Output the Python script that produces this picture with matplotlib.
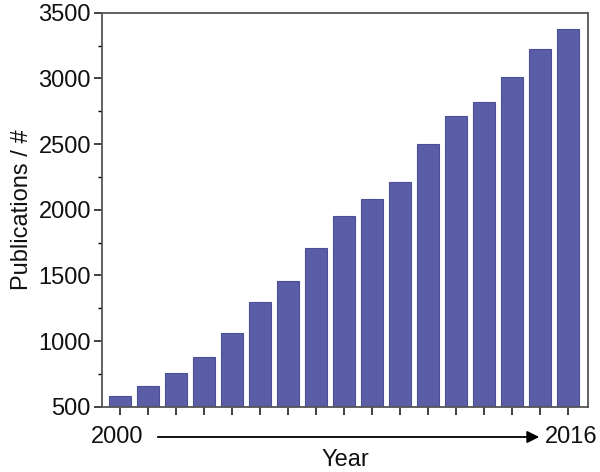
import matplotlib.pyplot as plt
from matplotlib.ticker import MultipleLocator
import numpy as np

plt.rcParams['font.family'] = ['Liberation Sans', 'DejaVu Sans']

years = np.arange(2000, 2017)
publications = [585, 662, 761, 883, 1061, 1301, 1461, 1712, 1953, 2085,
                2212, 2501, 2715, 2819, 3009, 3222, 3377]

fig = plt.figure(figsize=(6, 4.72), dpi=100)
ax = fig.add_axes([0.17, 0.138, 0.81, 0.835])

ax.bar(years, publications, width=0.78, bottom=0, color='#5b5ea6',
       edgecolor='#4b4e98', linewidth=0.8)

ax.set_xlim(2000 - 0.65, 2016 + 0.7)
ax.set_ylim(500, 3500)
ax.set_xticks(years)
ax.set_xticklabels([])
ax.yaxis.set_major_locator(MultipleLocator(500))
ax.yaxis.set_minor_locator(MultipleLocator(250))
ax.tick_params(axis='both', direction='out', colors='#222222', labelsize=17)
ax.tick_params(which='major', length=6, width=1.2)
ax.tick_params(which='minor', length=3, width=1.0)
ax.tick_params(axis='y', labelcolor='#111111', pad=2)
for s in ax.spines.values():
    s.set_color('#555555')
    s.set_linewidth(1.3)

ax.set_ylabel('Publications / #', fontsize=17, color='#111111', labelpad=4)

# year range arrow beneath the axis
fig.text(117 / 600, 1 - 437 / 472, '2000', fontsize=17, ha='center', va='center', color='#111111')
fig.text(571 / 600, 1 - 437 / 472, '2016', fontsize=17, ha='center', va='center', color='#111111')
fig.text(345 / 600, 1 - 460 / 472, 'Year', fontsize=17, ha='center', va='center', color='#111111')
ax.annotate('', xy=(542 / 600, 1 - 437 / 472), xytext=(155 / 600, 1 - 437 / 472),
            xycoords='figure fraction', textcoords='figure fraction',
            arrowprops=dict(arrowstyle='-|>', color='black', lw=1.3, mutation_scale=18))

fig.savefig('out.png', dpi=100)
